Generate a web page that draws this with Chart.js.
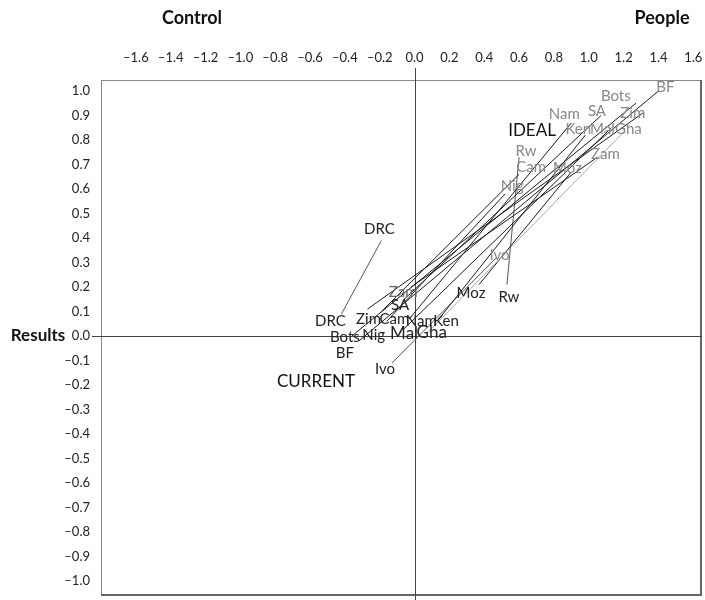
<!DOCTYPE html>
<html><head><meta charset="utf-8">
<script src="https://cdn.jsdelivr.net/npm/chart.js@4/dist/chart.umd.min.js"></script>
<style>html,body{margin:0;padding:0;background:#fff}#wrap{width:705px;height:600px}</style>
</head><body><div id="wrap"><canvas id="c" width="705" height="600"></canvas></div>
<script>
const countries = ['BF','Bots','DRC','Zim','Cam','Nam','Ken','Nig','Mal','Gha','SA','Zam','Ivo','Moz','Rw'];
const currentX = [-0.32,-0.36,-0.42,-0.27,-0.19,-0.03,0.14,-0.16,-0.06,0.07,-0.06,-0.02,-0.13,0.37,0.53];
const currentY = [-0.02,0.00,0.09,0.11,0.10,0.07,0.07,0.06,0.03,0.01,0.15,0.20,-0.11,0.21,0.21];
const idealX = [1.40,1.27,-0.19,1.31,0.60,0.90,0.98,0.52,1.13,1.21,1.07,1.05,0.47,0.90,0.60];
const idealY = [1.00,0.95,0.39,0.91,0.66,0.87,0.82,0.58,0.85,0.84,0.90,0.73,0.32,0.67,0.73];
const xTicks = [-1.6,-1.4,-1.2,-1.0,-0.8,-0.6,-0.4,-0.2,0.0,0.2,0.4,0.6,0.8,1.0,1.2,1.4,1.6];
const yTicks = [1.0,0.9,0.8,0.7,0.6,0.5,0.4,0.3,0.2,0.1,0.0,-0.1,-0.2,-0.3,-0.4,-0.5,-0.6,-0.7,-0.8,-0.9,-1.0];

// styling (label offsets in px relative to the line ends)
const curOff = {BF:[-14,12],Bots:[-7,1],DRC:[-11,7],Zim:[1,10],Cam:[13,8],Nam:[12,2],Ken:[7,2],Nig:[-13,14],Mal:[0,5],Gha:[5,-1],SA:[-4,6],Zam:[-8,5],Ivo:[-7,6],Moz:[-8,9],Rw:[2,13]};
const idOff = {BF:[7,-4],Bots:[-20,-7],DRC:[-2,-11],Zim:[-10,0],Cam:[12,-7],Nam:[-7,-9],Ken:[-7,-6],Nig:[7,-8],Mal:[-9,1],Gha:[3,-1],SA:[-4,-4],Zam:[8,-3],Ivo:[3,-2],Moz:[-4,-4],Rw:[7,-6]};
const FONT = 'Lato, "Open Sans", sans-serif';
const lineColor = {Gha:'#aaa',DRC:'#555',Rw:'#555',Ivo:'#555'};

const datasets = countries.map((c,i)=>({
  label:c,
  data:[{x:currentX[i],y:currentY[i]},{x:idealX[i],y:idealY[i]}],
  showLine:true, borderColor:lineColor[c]||'#1a1a1a', borderWidth:1, pointRadius:0, fill:false
}));

const fmt = v => (v<0?'\u2013':'') + Math.abs(v).toFixed(1);
const noPad = s => { s.paddingLeft=0; s.paddingRight=0; s.paddingTop=0; s.paddingBottom=0; };

const decor = {
  id:'decor',
  beforeDatasetsDraw(chart){
    const ctx=chart.ctx, a=chart.chartArea, xs=chart.scales.x, ys=chart.scales.y;
    ctx.save();
    ctx.strokeStyle='#888'; ctx.lineWidth=1;
    ctx.strokeRect(a.left+0.5,a.top+0.5,a.right-a.left-1,a.bottom-a.top-1);
    ctx.strokeStyle='#666'; ctx.lineWidth=2;
    ctx.beginPath(); ctx.moveTo(a.right-1,a.top); ctx.lineTo(a.right-1,a.bottom-1); ctx.lineTo(a.left,a.bottom-1); ctx.stroke();
    const x0=Math.round(xs.getPixelForValue(0))+0.5, y0=Math.round(ys.getPixelForValue(0))+0.5;
    ctx.strokeStyle='#444'; ctx.lineWidth=1;
    ctx.beginPath(); ctx.moveTo(x0,68); ctx.lineTo(x0,600); ctx.moveTo(92,y0); ctx.lineTo(a.right,y0); ctx.stroke();
    ctx.restore();
  },
  afterDatasetsDraw(chart){
    const ctx=chart.ctx, xs=chart.scales.x, ys=chart.scales.y;
    ctx.save(); ctx.textAlign='center'; ctx.textBaseline='middle';
    countries.forEach((c,i)=>{
      const big = (c==='Mal'||c==='Gha');
      ctx.font = (big?'17px ':'15px ')+FONT;
      ctx.fillStyle = (c==='Zam')?'#666':'#222';
      ctx.fillText(c, xs.getPixelForValue(currentX[i])+curOff[c][0], ys.getPixelForValue(currentY[i])+curOff[c][1]);
      ctx.font='15px '+FONT;
      ctx.fillStyle = (c==='DRC')?'#222':'#888';
      ctx.fillText(c, xs.getPixelForValue(idealX[i])+idOff[c][0], ys.getPixelForValue(idealY[i])+idOff[c][1]);
    });
    ctx.font='17px '+FONT; ctx.fillStyle='#111';
    ctx.fillText('IDEAL',532,131);
    ctx.fillText('CURRENT',316,382);
    ctx.font='bold 18px '+FONT;
    ctx.fillText('Control',192,18);
    ctx.fillText('People',662,18);
    ctx.font='bold 17px '+FONT;
    ctx.fillText('Results',38,336);
    ctx.restore();
  }
};

new Chart(document.getElementById('c'),{
  type:'scatter',
  data:{datasets},
  options:{
    responsive:false, animation:false,
    layout:{padding:{top:0,left:0,right:3,bottom:4}},
    plugins:{legend:{display:false},tooltip:{enabled:false}},
    scales:{
      x:{type:'linear',position:'top',min:-1.8,max:1.65,
        afterBuildTicks:s=>{s.ticks=xTicks.map(v=>({value:v}));},
        afterFit:s=>{s.height=80; noPad(s);},
        grid:{display:false,drawTicks:false}, border:{display:false},
        ticks:{padding:14,color:'#222',font:{family:FONT,size:13},callback:v=>fmt(v),maxRotation:0,autoSkip:false}},
      y:{type:'linear',min:-1.061,max:1.045,
        afterBuildTicks:s=>{s.ticks=yTicks.map(v=>({value:v}));},
        afterFit:s=>{s.width=101; noPad(s);},
        grid:{display:false,drawTicks:false}, border:{display:false},
        ticks:{padding:11,color:'#222',font:{family:FONT,size:13},callback:v=>fmt(v),autoSkip:false}}
    }
  },
  plugins:[decor]
});
</script></body></html>
